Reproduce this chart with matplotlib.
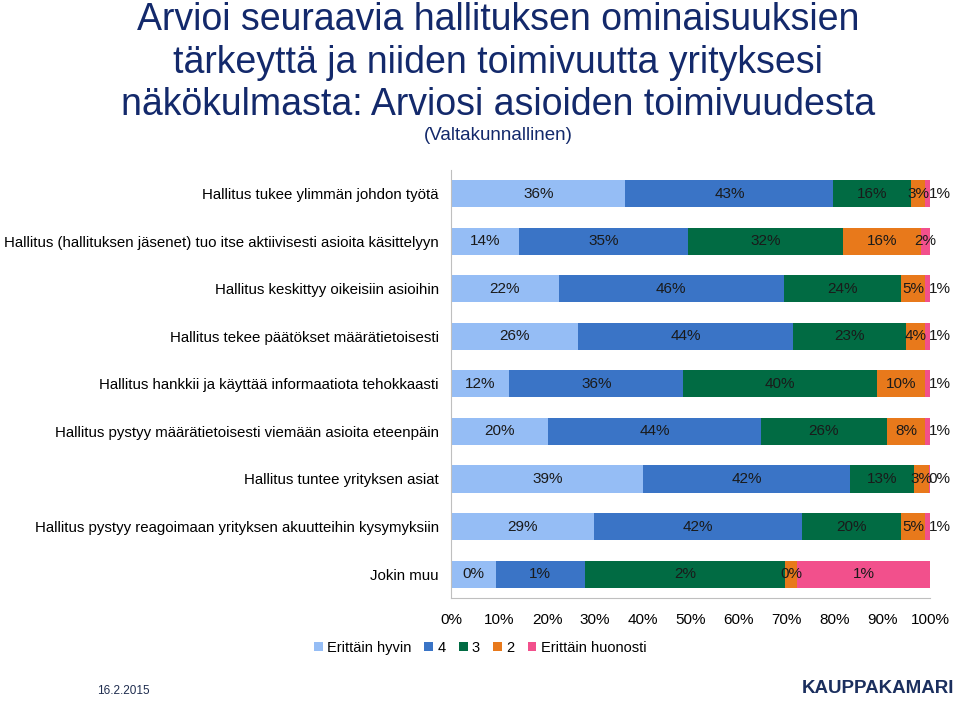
import matplotlib.pyplot as plt
import numpy as np

plt.rcParams['font.family'] = ['Liberation Sans', 'DejaVu Sans']

categories = [
    'Hallitus tukee ylimmän johdon työtä',
    'Hallitus (hallituksen jäsenet) tuo itse aktiivisesti asioita käsittelyyn',
    'Hallitus keskittyy oikeisiin asioihin',
    'Hallitus tekee päätökset määrätietoisesti',
    'Hallitus hankkii ja käyttää informaatiota tehokkaasti',
    'Hallitus pystyy määrätietoisesti viemään asioita eteenpäin',
    'Hallitus tuntee yrityksen asiat',
    'Hallitus pystyy reagoimaan yrityksen akuutteihin kysymyksiin',
    'Jokin muu',
]
series = ['Erittäin hyvin', '4', '3', '2', 'Erittäin huonosti']
colors = ['#95BDF5', '#3A74C6', '#016B43', '#E8791B', '#F2508C']

erittain_hyvin = [36, 14, 22, 26, 12, 20, 39, 29, 0.4]
nelja = [43, 35, 46, 44, 36, 44, 42, 42, 0.8]
kolme = [16, 32, 24, 23, 40, 26, 13, 20, 1.8]
kaksi = [3, 16, 5, 4, 10, 8, 3, 5, 0.1]
erittain_huonosti = [1, 2, 1, 1, 1, 1, 0.3, 1, 1.2]

data = np.array([erittain_hyvin, nelja, kolme, kaksi, erittain_huonosti]).T
shares = data / data.sum(axis=1, keepdims=True) * 100

fig = plt.figure(figsize=(9.6, 7.05), dpi=100)
ax = fig.add_axes([0.470, 0.152, 0.499, 0.607])

y = np.arange(len(categories))
left = np.zeros(len(categories))
for j, name in enumerate(series):
    ax.barh(y, shares[:, j], left=left, height=0.57, color=colors[j],
            label=name, edgecolor='none')
    for i in range(len(categories)):
        w = shares[i, j]
        x = left[i] + w / 2
        if j == 4 and w < 1.5:
            x = left[i] + w + 2.0
        ax.text(x, y[i], f'{data[i, j]:.0f}%', ha='center', va='center',
                fontsize=11, color='#1a1a1a')
    left += shares[:, j]

ax.set_ylim(len(categories) - 0.5, -0.5)
ax.set_xlim(0, 100)
ax.set_yticks(y)
ax.set_yticklabels(categories, fontsize=10.8)
ax.set_xticks(np.arange(0, 101, 10))
ax.set_xticklabels([f'{v}%' for v in range(0, 101, 10)], fontsize=11)
ax.tick_params(length=0)
ax.tick_params(axis='y', pad=9)
ax.tick_params(axis='x', pad=11)
for s in ['top', 'right']:
    ax.spines[s].set_visible(False)
for s in ['left', 'bottom']:
    ax.spines[s].set_color('#BFBFBF')

fig.legend(loc='center', bbox_to_anchor=(0.5, 0.081), ncol=5, frameon=False,
           fontsize=10.5, handlelength=0.6, handleheight=0.6, handletextpad=0.3,
           columnspacing=0.9)

title_color = '#13296B'
fig.text(0.519, 0.972, 'Arvioi seuraavia hallituksen ominaisuuksien', ha='center',
         va='center', fontsize=27, color=title_color)
fig.text(0.519, 0.911, 'tärkeyttä ja niiden toimivuutta yrityksesi', ha='center',
         va='center', fontsize=27, color=title_color)
fig.text(0.519, 0.851, 'näkökulmasta: Arviosi asioiden toimivuudesta', ha='center',
         va='center', fontsize=27, color=title_color)
fig.text(0.519, 0.808, '(Valtakunnallinen)', ha='center', va='center',
         fontsize=13.5, color=title_color)

fig.text(0.129, 0.012, '16.2.2015', ha='center', va='bottom', fontsize=8.5,
         color='#1F2D4F')
fig.text(0.994, 0.012, 'KAUPPAKAMARI', ha='right', va='bottom', fontsize=13.5,
         fontweight='bold', color='#1B2F5E')

fig.savefig('out.png', dpi=100)
